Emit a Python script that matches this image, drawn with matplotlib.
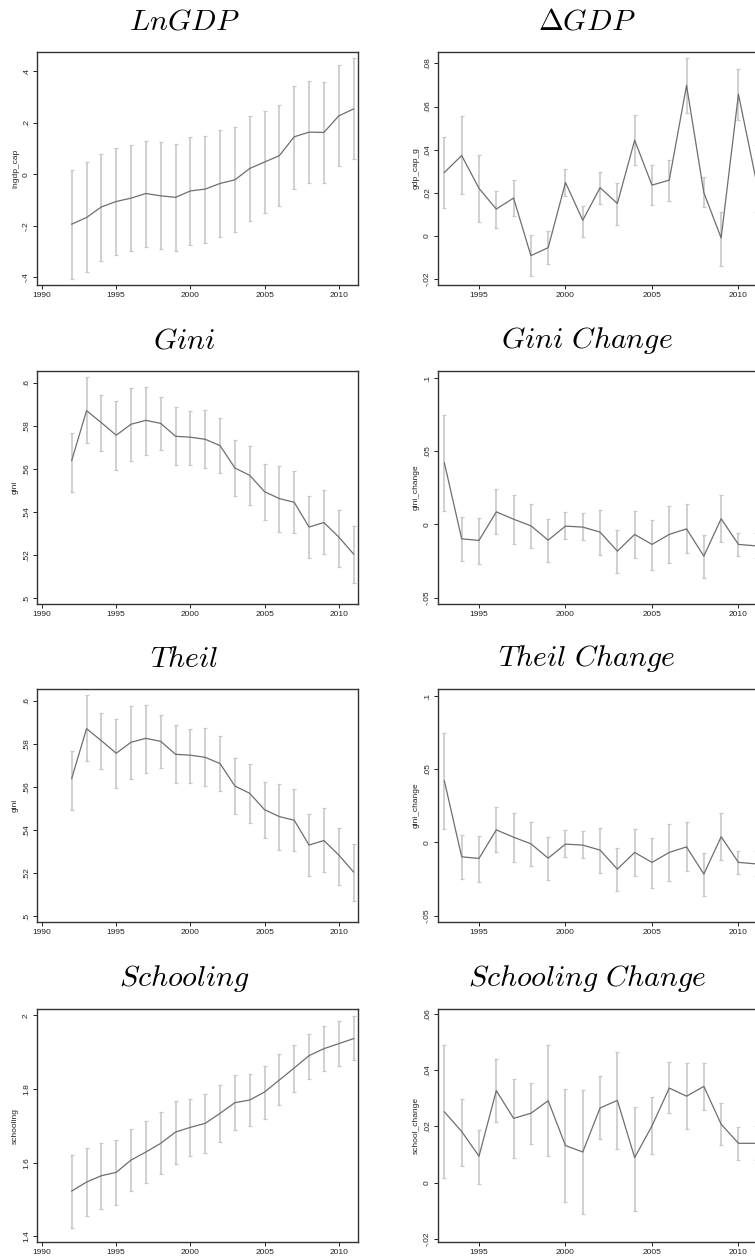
import numpy as np
import matplotlib.pyplot as plt
from matplotlib.ticker import FuncFormatter

plt.rcParams['mathtext.fontset'] = 'cm'
plt.rcParams['font.family'] = ['Liberation Sans', 'DejaVu Sans']

# years covered by the level series and by the change series
years_level = [1992, 1993, 1994, 1995, 1996, 1997, 1998, 1999, 2000, 2001,
               2002, 2003, 2004, 2005, 2006, 2007, 2008, 2009, 2010, 2011]
years_change = years_level[1:]

# log GDP per capita: mean, lower and upper bound
lngdp = [-0.194, -0.168, -0.127, -0.106, -0.093, -0.075, -0.084, -0.090, -0.065, -0.058,
         -0.036, -0.022, 0.022, 0.047, 0.072, 0.145, 0.163, 0.162, 0.226, 0.253]
lngdp_lo = [-0.408, -0.379, -0.336, -0.314, -0.299, -0.283, -0.292, -0.297, -0.273, -0.266,
            -0.244, -0.226, -0.180, -0.152, -0.124, -0.057, -0.034, -0.034, 0.032, 0.057]
lngdp_hi = [0.018, 0.048, 0.080, 0.102, 0.112, 0.129, 0.123, 0.116, 0.143, 0.149,
            0.173, 0.184, 0.227, 0.247, 0.270, 0.342, 0.362, 0.358, 0.425, 0.451]

# GDP growth
gdp_g = [0.0295, 0.0373, 0.0221, 0.0125, 0.0176, -0.0091, -0.0054, 0.0248, 0.0073, 0.0224,
         0.0151, 0.0444, 0.0236, 0.0259, 0.0698, 0.0201, -0.0009, 0.0657, 0.0267]
gdp_g_lo = [0.0128, 0.0193, 0.0065, 0.0039, 0.0091, -0.0187, -0.0130, 0.0187, -0.0003, 0.0150,
            0.0049, 0.0327, 0.0144, 0.0164, 0.0568, 0.0133, -0.0137, 0.0540, 0.0110]
gdp_g_hi = [0.0457, 0.0556, 0.0377, 0.0210, 0.0261, 0.0005, 0.0022, 0.0312, 0.0139, 0.0298,
            0.0247, 0.0563, 0.0327, 0.0353, 0.0824, 0.0273, 0.0110, 0.0775, 0.0421]

# Gini level
gini = [0.5640, 0.5871, 0.5815, 0.5757, 0.5808, 0.5826, 0.5812, 0.5752, 0.5748, 0.5738,
        0.5709, 0.5605, 0.5571, 0.5495, 0.5463, 0.5446, 0.5331, 0.5352, 0.5285, 0.5206]
gini_lo = [0.5494, 0.5720, 0.5683, 0.5595, 0.5638, 0.5666, 0.5688, 0.5617, 0.5620, 0.5603,
           0.5582, 0.5477, 0.5434, 0.5366, 0.5309, 0.5302, 0.5186, 0.5205, 0.5145, 0.5071]
gini_hi = [0.5769, 0.6025, 0.5945, 0.5915, 0.5974, 0.5982, 0.5935, 0.5889, 0.5871, 0.5875,
           0.5835, 0.5734, 0.5709, 0.5622, 0.5614, 0.5589, 0.5474, 0.5502, 0.5412, 0.5338]

# Gini change
gini_chg = [0.0420, -0.0098, -0.0109, 0.0086, 0.0036, -0.0009, -0.0107, -0.0011, -0.0018, -0.0052,
            -0.0182, -0.0068, -0.0136, -0.0068, -0.0030, -0.0216, 0.0039, -0.0136, -0.0146]
gini_chg_lo = [0.0091, -0.0250, -0.0270, -0.0068, -0.0130, -0.0164, -0.0255, -0.0102, -0.0109, -0.0205,
               -0.0334, -0.0230, -0.0311, -0.0261, -0.0198, -0.0366, -0.0120, -0.0216, -0.0227]
gini_chg_hi = [0.0745, 0.0052, 0.0045, 0.0243, 0.0198, 0.0141, 0.0039, 0.0082, 0.0075, 0.0100,
               -0.0036, 0.0093, 0.0032, 0.0125, 0.0141, -0.0070, 0.0202, -0.0055, -0.0061]

# schooling level
school = [1.5232, 1.5476, 1.5648, 1.5739, 1.6073, 1.6290, 1.6526, 1.6833, 1.6960, 1.7068,
          1.7340, 1.7629, 1.7701, 1.7919, 1.8244, 1.8570, 1.8905, 1.9094, 1.9230, 1.9366]
school_lo = [1.4237, 1.4554, 1.4753, 1.4861, 1.5223, 1.5458, 1.5693, 1.5974, 1.6182, 1.6272,
             1.6562, 1.6887, 1.6996, 1.7186, 1.7557, 1.7919, 1.8280, 1.8497, 1.8633, 1.8778]
school_hi = [1.6209, 1.6390, 1.6544, 1.6616, 1.6906, 1.7132, 1.7385, 1.7683, 1.7738, 1.7855,
             1.8100, 1.8371, 1.8416, 1.8624, 1.8941, 1.9185, 1.9501, 1.9701, 1.9836, 1.9981]

# schooling change
school_chg = [0.0252, 0.0182, 0.0094, 0.0328, 0.0229, 0.0247, 0.0292, 0.0132, 0.0109, 0.0266,
              0.0293, 0.0089, 0.0202, 0.0337, 0.0308, 0.0343, 0.0208, 0.0140, 0.0140]
school_chg_lo = [0.0017, 0.0060, -0.0004, 0.0217, 0.0089, 0.0139, 0.0094, -0.0070, -0.0112, 0.0155,
                 0.0120, -0.0100, 0.0102, 0.0248, 0.0191, 0.0260, 0.0133, 0.0080, 0.0080]
school_chg_hi = [0.0492, 0.0298, 0.0188, 0.0440, 0.0368, 0.0354, 0.0492, 0.0334, 0.0331, 0.0379,
                 0.0466, 0.0271, 0.0306, 0.0430, 0.0426, 0.0426, 0.0283, 0.0199, 0.0200]

# (title, years, mean, lo, hi, ylabel, yticks, ylim)
panels = [
    (r'$LnGDP$', years_level, lngdp, lngdp_lo, lngdp_hi, 'lngdp_cap',
     [-.4, -.2, 0, .2, .4], (-0.430, 0.474)),
    (r'$\Delta GDP$', years_change, gdp_g, gdp_g_lo, gdp_g_hi, 'gdp_cap_g',
     [-.02, 0, .02, .04, .06, .08], (-0.0227, 0.0853)),
    (r'$Gini$', years_level, gini, gini_lo, gini_hi, 'gini',
     [.5, .52, .54, .56, .58, .6], (0.4974, 0.6055)),
    (r'$Gini\ Change$', years_change, gini_chg, gini_chg_lo, gini_chg_hi, 'gini_change',
     [-.05, 0, .05, .1], (-0.0543, 0.1048)),
    (r'$Theil$', years_level, gini, gini_lo, gini_hi, 'gini',
     [.5, .52, .54, .56, .58, .6], (0.4974, 0.6055)),
    (r'$Theil\ Change$', years_change, gini_chg, gini_chg_lo, gini_chg_hi, 'gini_change',
     [-.05, 0, .05, .1], (-0.0543, 0.1048)),
    (r'$Schooling$', years_level, school, school_lo, school_hi, 'schooling',
     [1.4, 1.6, 1.8, 2], (1.385, 2.017)),
    (r'$Schooling\ Change$', years_change, school_chg, school_chg_lo, school_chg_hi, 'school_change',
     [-.02, 0, .02, .04, .06], (-0.0212, 0.0619)),
]


def stata_fmt(v, pos):
    s = f'{round(v, 6):g}'
    if s.startswith('0.'):
        s = s[1:]
    elif s.startswith('-0.'):
        s = '-' + s[2:]
    return s


W, H = 755, 1260
fig = plt.figure(figsize=(W / 100, H / 100), dpi=100)

row_tops = [52, 371, 689, 1009]
ax_h = 233
col_left = [37, 438]
col_w = [321, 325]
col_xlim = [(1989.66, 2011.3), (1992.63, 2011.42)]
col_xticks = [[1990, 1995, 2000, 2005, 2010], [1995, 2000, 2005, 2010]]
title_x = [184, 587]

for i, (title, yrs, mean, lo, hi, ylab, yt, ylim) in enumerate(panels):
    r, c = divmod(i, 2)
    top = row_tops[r]
    ax = fig.add_axes([col_left[c] / W, 1 - (top + ax_h) / H, col_w[c] / W, ax_h / H])
    mean = np.array(mean)
    err = [mean - np.array(lo), np.array(hi) - mean]
    ax.errorbar(yrs, mean, yerr=err, fmt='none', ecolor='#c8c8c8',
                elinewidth=1.2, capsize=1.6, capthick=0.9, zorder=2)
    ax.plot(yrs, mean, color='#6e6e6e', lw=0.9, zorder=3)
    ax.set_xlim(col_xlim[c])
    ax.set_ylim(ylim)
    ax.set_xticks(col_xticks[c])
    ax.set_yticks(yt)
    ax.yaxis.set_major_formatter(FuncFormatter(stata_fmt))
    ax.tick_params(axis='both', direction='out', length=3, width=0.7,
                   labelsize=6, pad=2, colors='#222222')
    plt.setp(ax.get_yticklabels(), rotation=90, va='center')
    ax.set_ylabel(ylab, fontsize=6, labelpad=3, color='#222222')
    for sp in ax.spines.values():
        sp.set_color('#333333')
        sp.set_linewidth(1.0)
    fig.text(title_x[c] / W, 1 - (top - 30) / H, title, fontsize=21.5,
             ha='center', va='center')

fig.savefig('out.png', dpi=100)
